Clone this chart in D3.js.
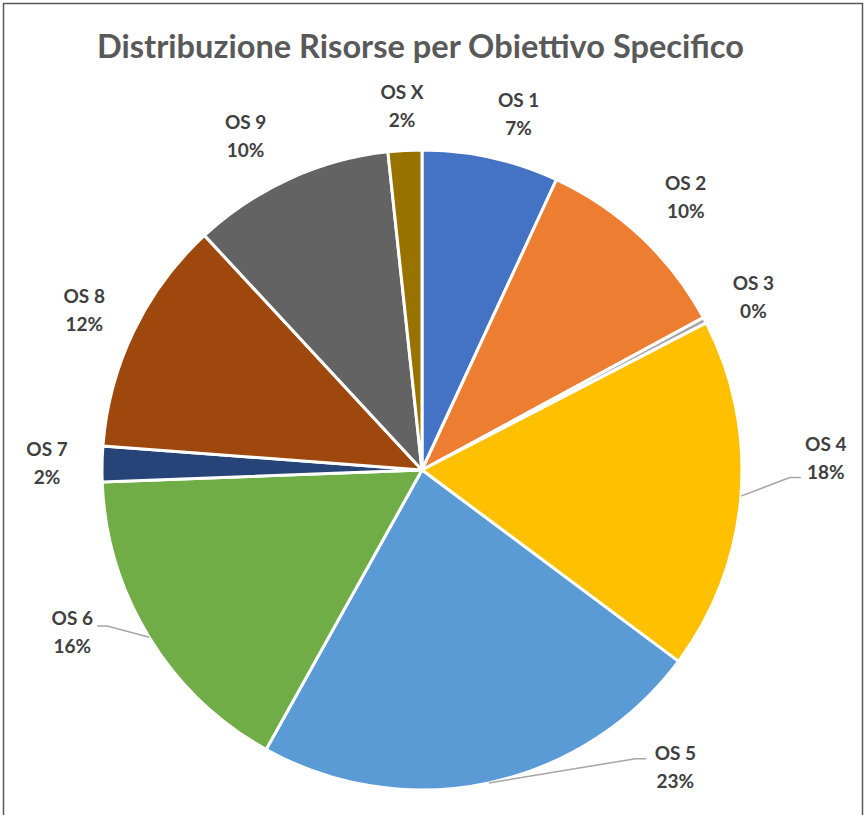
<!DOCTYPE html>
<html>
<head>
<meta charset="utf-8">
<script src="https://cdn.jsdelivr.net/npm/d3@7"></script>
<style>
  body { margin: 0; background: #fff; }
  text { font-family: Lato, "Open Sans", sans-serif; font-weight: bold; }
</style>
</head>
<body>
<script>
// data (percent)
var categories = ["OS 1", "OS 2", "OS 3", "OS 4", "OS 5", "OS 6", "OS 7", "OS 8", "OS 9", "OS X"];
var values = [6.9, 10.2, 0.3, 17.8, 22.9, 16.3, 1.8, 11.9, 10.2, 1.7];
var pctLabels = ["7%", "10%", "0%", "18%", "23%", "16%", "2%", "12%", "10%", "2%"];
var colors = ["#4472C4", "#ED7D31", "#A5A5A5", "#FFC000", "#5B9BD5",
              "#70AD47", "#264478", "#9E480E", "#636363", "#997300"];

// label placement tweaks (Excel "best fit" moves a few of them)
var nudge = {
  "OS 1": [16, 10], "OS 2": [7, 0], "OS 3": [0, 2], "OS 4": [30, -43],
  "OS 5": [175, -70], "OS 6": [-30, -34], "OS 7": [0, 0], "OS 8": [0, 3],
  "OS 9": [-21, 7], "OS X": [0, 10]
};
// leader lines: [end dx from label centre, end dy from label centre]
var leaders = { "OS 4": [-25, 20], "OS 5": [-29, -8], "OS 6": [25, -6] };

var width = 867, height = 815,
    cx = 422, cy = 470, radius = 320, labelR = 375;

var svg = d3.select("body").append("svg")
    .attr("width", width)
    .attr("height", height);

// chart frame
svg.append("rect")
    .attr("x", 3.5).attr("y", 3.5)
    .attr("width", 859).attr("height", 840)
    .attr("fill", "none")
    .attr("stroke", "#595959")
    .attr("stroke-width", 1.5);

svg.append("text")
    .text("Distribuzione Risorse per Obiettivo Specifico")
    .attr("x", 420.5)
    .attr("y", 58)
    .attr("text-anchor", "middle")
    .attr("font-size", 32)
    .attr("textLength", 647)
    .attr("lengthAdjust", "spacingAndGlyphs")
    .attr("fill", "#595959");

var pie = d3.pie().sort(null).value(function(d){ return d; });
var arcs = pie(values);

var arc = d3.arc().innerRadius(0).outerRadius(radius);

var g = svg.append("g").attr("transform", "translate(" + cx + "," + cy + ")");

g.selectAll("path")
  .data(arcs)
  .enter()
  .append("path")
    .attr("d", arc)
    .attr("fill", function(d, i){ return colors[i]; })
    .attr("stroke", "#fff")
    .attr("stroke-width", 3)
    .attr("stroke-linejoin", "round");

function midAngle(d) { return (d.startAngle + d.endAngle) / 2; }
function labelPos(d, i) {
  var a = midAngle(d), n = nudge[categories[i]];
  return [labelR * Math.sin(a) + n[0], -labelR * Math.cos(a) + n[1]];
}

// leader lines
arcs.forEach(function(d, i) {
  var ld = leaders[categories[i]];
  if (!ld) return;
  var a = midAngle(d), p = labelPos(d, i);
  var start = [radius * Math.sin(a), -radius * Math.cos(a)];
  var end = [p[0] + ld[0], p[1] + ld[1]];
  var elbow = [end[0] + (ld[0] < 0 ? -11 : 10), end[1]];
  g.append("polyline")
    .attr("points", [start, elbow, end].map(function(q){ return q.join(","); }).join(" "))
    .attr("fill", "none")
    .attr("stroke", "#A6A6A6")
    .attr("stroke-width", 1.5);
});

var lbl = g.selectAll(".lbl")
  .data(arcs)
  .enter()
  .append("text")
    .attr("class", "lbl")
    .attr("text-anchor", "middle")
    .attr("font-size", 19)
    .attr("fill", "#404040");

lbl.append("tspan")
    .attr("x", function(d, i){ return labelPos(d, i)[0]; })
    .attr("y", function(d, i){ return labelPos(d, i)[1] - 7; })
    .text(function(d, i){ return categories[i]; });

lbl.append("tspan")
    .attr("x", function(d, i){ return labelPos(d, i)[0]; })
    .attr("y", function(d, i){ return labelPos(d, i)[1] + 21; })
    .text(function(d, i){ return pctLabels[i]; });
</script>
</body>
</html>
